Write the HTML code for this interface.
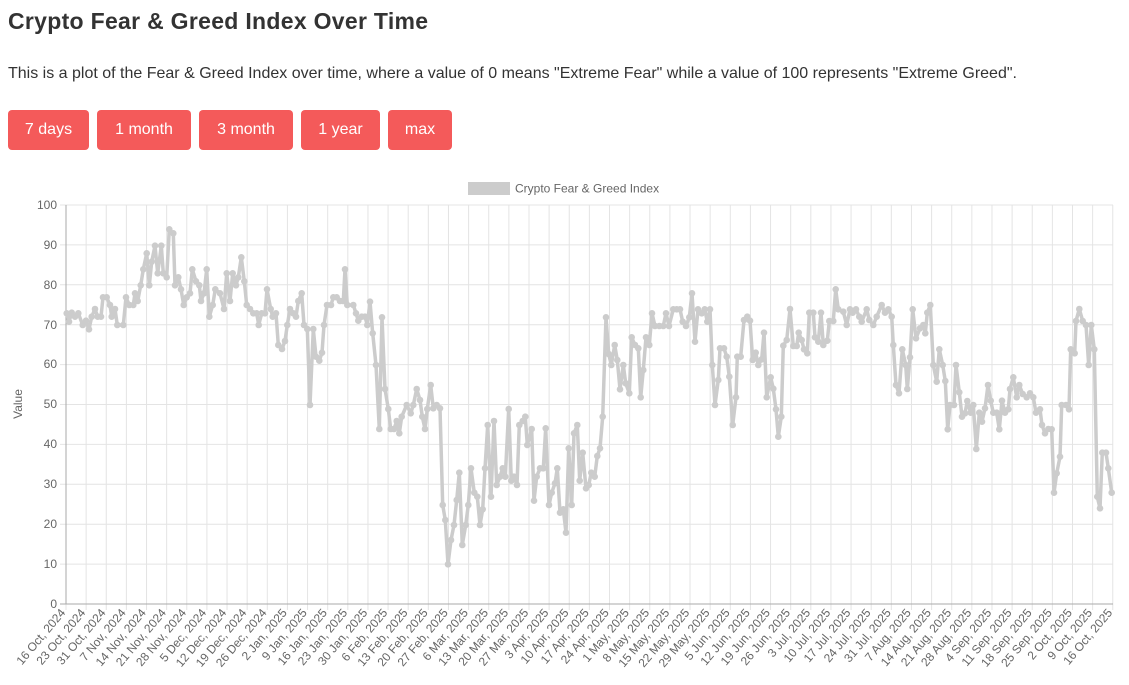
<!DOCTYPE html>
<html><head><meta charset="utf-8"><style>
body{margin:0;width:1129px;height:685px;overflow:hidden;background:#fff;font-family:"Liberation Sans",sans-serif;position:relative}
h1{position:absolute;left:8px;top:8px;margin:0;font-size:23px;font-weight:bold;color:#333;letter-spacing:0.3px}
p{position:absolute;left:8px;top:65px;margin:0;font-size:16px;color:#333}
.b{position:absolute;top:110px;height:40px;line-height:40px;background:#f45a5a;color:#fff;border-radius:4px;font-size:16px;text-align:center}
svg{position:absolute;left:0;top:0}
</style></head><body>
<h1>Crypto Fear &amp; Greed Index Over Time</h1>
<p>This is a plot of the Fear &amp; Greed Index over time, where a value of 0 means "Extreme Fear" while a value of 100 represents "Extreme Greed".</p>
<div class="b" style="left:8px;width:81px">7 days</div>
<div class="b" style="left:97px;width:94px">1 month</div>
<div class="b" style="left:199px;width:94px">3 month</div>
<div class="b" style="left:301px;width:79px">1 year</div>
<div class="b" style="left:388px;width:64px">max</div>
<svg width="1129" height="685" font-family="Liberation Sans, sans-serif">
<g id="grid" stroke="#e4e4e4" stroke-width="1"></g>
<rect x="468" y="182" width="42" height="13" fill="#cccccc"/>
<text x="515" y="192.5" font-size="12" fill="#666">Crypto Fear &amp; Greed Index</text>
<text transform="translate(22,404) rotate(-90)" font-size="12" fill="#666" text-anchor="middle">Value</text>
<g font-size="12" fill="#666" text-anchor="end">
<text x="57" y="209">100</text><text x="57" y="249">90</text><text x="57" y="289">80</text><text x="57" y="329">70</text><text x="57" y="368">60</text><text x="57" y="408">50</text><text x="57" y="448">40</text><text x="57" y="488">30</text><text x="57" y="528">20</text><text x="57" y="568">10</text><text x="57" y="608">0</text>
</g>
<g id="xl" font-size="12" fill="#666" text-anchor="end">
<text transform="translate(66.0,613) rotate(-50)">16 Oct, 2024</text>
<text transform="translate(86.1,613) rotate(-50)">23 Oct, 2024</text>
<text transform="translate(106.3,613) rotate(-50)">31 Oct, 2024</text>
<text transform="translate(126.4,613) rotate(-50)">7 Nov, 2024</text>
<text transform="translate(146.5,613) rotate(-50)">14 Nov, 2024</text>
<text transform="translate(166.7,613) rotate(-50)">21 Nov, 2024</text>
<text transform="translate(186.8,613) rotate(-50)">28 Nov, 2024</text>
<text transform="translate(206.9,613) rotate(-50)">5 Dec, 2024</text>
<text transform="translate(227.1,613) rotate(-50)">12 Dec, 2024</text>
<text transform="translate(247.2,613) rotate(-50)">19 Dec, 2024</text>
<text transform="translate(267.3,613) rotate(-50)">26 Dec, 2024</text>
<text transform="translate(287.5,613) rotate(-50)">2 Jan, 2025</text>
<text transform="translate(307.6,613) rotate(-50)">9 Jan, 2025</text>
<text transform="translate(327.7,613) rotate(-50)">16 Jan, 2025</text>
<text transform="translate(347.9,613) rotate(-50)">23 Jan, 2025</text>
<text transform="translate(368.0,613) rotate(-50)">30 Jan, 2025</text>
<text transform="translate(388.1,613) rotate(-50)">6 Feb, 2025</text>
<text transform="translate(408.3,613) rotate(-50)">13 Feb, 2025</text>
<text transform="translate(428.4,613) rotate(-50)">20 Feb, 2025</text>
<text transform="translate(448.5,613) rotate(-50)">27 Feb, 2025</text>
<text transform="translate(468.7,613) rotate(-50)">6 Mar, 2025</text>
<text transform="translate(488.8,613) rotate(-50)">13 Mar, 2025</text>
<text transform="translate(508.9,613) rotate(-50)">20 Mar, 2025</text>
<text transform="translate(529.1,613) rotate(-50)">27 Mar, 2025</text>
<text transform="translate(549.2,613) rotate(-50)">3 Apr, 2025</text>
<text transform="translate(569.3,613) rotate(-50)">10 Apr, 2025</text>
<text transform="translate(589.5,613) rotate(-50)">17 Apr, 2025</text>
<text transform="translate(609.6,613) rotate(-50)">24 Apr, 2025</text>
<text transform="translate(629.7,613) rotate(-50)">1 May, 2025</text>
<text transform="translate(649.9,613) rotate(-50)">8 May, 2025</text>
<text transform="translate(670.0,613) rotate(-50)">15 May, 2025</text>
<text transform="translate(690.1,613) rotate(-50)">22 May, 2025</text>
<text transform="translate(710.3,613) rotate(-50)">29 May, 2025</text>
<text transform="translate(730.4,613) rotate(-50)">5 Jun, 2025</text>
<text transform="translate(750.5,613) rotate(-50)">12 Jun, 2025</text>
<text transform="translate(770.7,613) rotate(-50)">19 Jun, 2025</text>
<text transform="translate(790.8,613) rotate(-50)">26 Jun, 2025</text>
<text transform="translate(810.9,613) rotate(-50)">3 Jul, 2025</text>
<text transform="translate(831.1,613) rotate(-50)">10 Jul, 2025</text>
<text transform="translate(851.2,613) rotate(-50)">17 Jul, 2025</text>
<text transform="translate(871.3,613) rotate(-50)">24 Jul, 2025</text>
<text transform="translate(891.5,613) rotate(-50)">31 Jul, 2025</text>
<text transform="translate(911.6,613) rotate(-50)">7 Aug, 2025</text>
<text transform="translate(931.7,613) rotate(-50)">14 Aug, 2025</text>
<text transform="translate(951.9,613) rotate(-50)">21 Aug, 2025</text>
<text transform="translate(972.0,613) rotate(-50)">28 Aug, 2025</text>
<text transform="translate(992.1,613) rotate(-50)">4 Sep, 2025</text>
<text transform="translate(1012.3,613) rotate(-50)">11 Sep, 2025</text>
<text transform="translate(1032.4,613) rotate(-50)">18 Sep, 2025</text>
<text transform="translate(1052.5,613) rotate(-50)">25 Sep, 2025</text>
<text transform="translate(1072.7,613) rotate(-50)">2 Oct, 2025</text>
<text transform="translate(1092.8,613) rotate(-50)">9 Oct, 2025</text>
<text transform="translate(1112.9,613) rotate(-50)">16 Oct, 2025</text>
</g>
<line x1="66" y1="205" x2="66" y2="604" stroke="#aaa"/>
<line x1="60" y1="604" x2="1113" y2="604" stroke="#aaa"/>
<g id="series"></g>
</svg>
<script>
var g=document.getElementById('grid'),s='';
for(var i=0;i<53;i++){var x=66+i*20.13;s+='<line x1="'+x+'" y1="205" x2="'+x+'" y2="610"/>';}
for(var j=0;j<=10;j++){var y=604-j*39.9;s+='<line x1="60" y1="'+y+'" x2="1113" y2="'+y+'"/>';}
g.innerHTML=s;
var z1=[200,430,207,455,215,428,225,440,235,430,248,465,258,452,267,478,275,440,285,417,293,440,303,440,309,382,320,382,330,405,335,440,345,417,352,465,370,465,378,382,388,405,400,405,405,370,413,393,422,346,430,298,440,250,448,346,455,275,465,227,473,310,484,227,490,310,500,322,508,178,520,190,525,346,535,322,543,358,551,405,560,382,570,370,577,298,588,334,598,346,603,393,612,370,620,298,628,440,638,405,646,358,660,370,672,417,680,310,690,393,698,310,708,346,715,322,724,262,733,334,740,405,750,417,760,430,770,430,776,465,785,430,795,430,801,358,812,417,818,440,828,430,835,525,846,537,855,513,862,465,870,417,880,430,888,440,895,393,905,370,912,465,922,477,930,705,940,477,948,560,958,572,966,548,972,465,981,405,993,405,1000,382,1010,382,1020,393,1030,393,1035,298,1042,405,1060,405,1068,430,1075,452,1085,440,1095,440,1102,465];
var z2=[0,65,8,160,18,255,28,447,36,112,45,327,55,387,62,447,72,447,80,423,88,460,95,410,110,375,122,400,130,375,140,327,150,360,157,410,165,447,172,387,182,315,190,385,200,375,210,385,218,675,226,720,234,853,243,780,252,735,260,660,268,578,277,795,287,735,295,675,303,565,313,638,322,650,330,735,338,688,345,565,353,435,363,650,372,423,380,615,390,590,398,565,406,590,416,387,424,602,432,590,441,615,448,435,458,423,466,410,472,495,485,447,492,662,500,590,510,565,520,565,527,445,537,675,545,638,555,610,562,565,570,698,580,688,588,758,596,505,605,675,612,460,622,435,629,602,638,518,648,625,656,615,664,578,674,590,682,528,690,505,698,410,708,112,716,222,724,255,734,195,742,240,750,328,760,255,767,310,778,340,785,172,795,195,805,205,812,352,820,270,828,172,838,195,846,100,855,138,868,138,880,138,888,100,897,138,910,88,920,88,930,88,938,125,948,138,958,112,966,40,975,185,984,88,995,100,1004,88,1012,125,1020,88,1027,255,1035,375,1045,300,1050,205,1062,205,1070,230,1078,290,1088,435,1098,352,1102,230,1112,230];
var z3=[12,150,22,140,30,152,38,270,47,248,55,285,65,268,72,188,80,382,92,322,100,356,108,418,115,500,124,440,130,227,140,210,150,117,160,228,170,228,176,188,185,210,192,238,202,250,208,128,220,128,225,202,235,215,243,128,250,225,262,212,268,153,280,153,287,58,295,118,310,125,320,165,330,118,338,128,348,118,358,140,365,155,380,118,388,150,400,165,410,140,425,105,435,128,445,118,455,140,460,225,468,345,477,370,487,238,497,285,502,357,510,262,518,118,528,205,540,175,550,165,556,190,562,128,571,105,580,285,590,335,598,238,608,285,616,333,623,478,630,405,642,405,648,285,658,367,666,440,675,430,682,393,692,428,700,405,709,537,718,428,726,455,735,415,744,345,752,392,760,428,770,428,778,478,786,392,795,428,805,418,810,357,820,322,830,382,838,345,848,372,860,382,870,370,880,382,888,428,900,418,906,465,915,490,925,477,935,478,942,668,950,610,960,560,965,405,978,405,987,418,992,238,1004,250,1008,153,1018,117,1028,153,1038,165,1046,285,1054,165,1063,238,1072,680,1080,715,1087,548,1098,548,1105,595,1115,668];
var P=[];
function add(a,ox,oy){for(var k=0;k<a.length;k+=2)P.push([ox+a[k]/3,oy+a[k+1]/3]);}
add(z1,0,170);add(z2,370,280);add(z3,740,270);
var pts=P.map(function(p){return p[0].toFixed(1)+','+p[1].toFixed(1)}).join(' ');
var h='<polyline points="'+pts+'" fill="none" stroke="#cccccc" stroke-width="3.5" stroke-linejoin="round"/>';
P.forEach(function(p){h+='<circle cx="'+p[0].toFixed(1)+'" cy="'+p[1].toFixed(1)+'" r="3.3" fill="#cccccc"/>';});
document.getElementById('series').innerHTML=h;
</script>
</body></html>
